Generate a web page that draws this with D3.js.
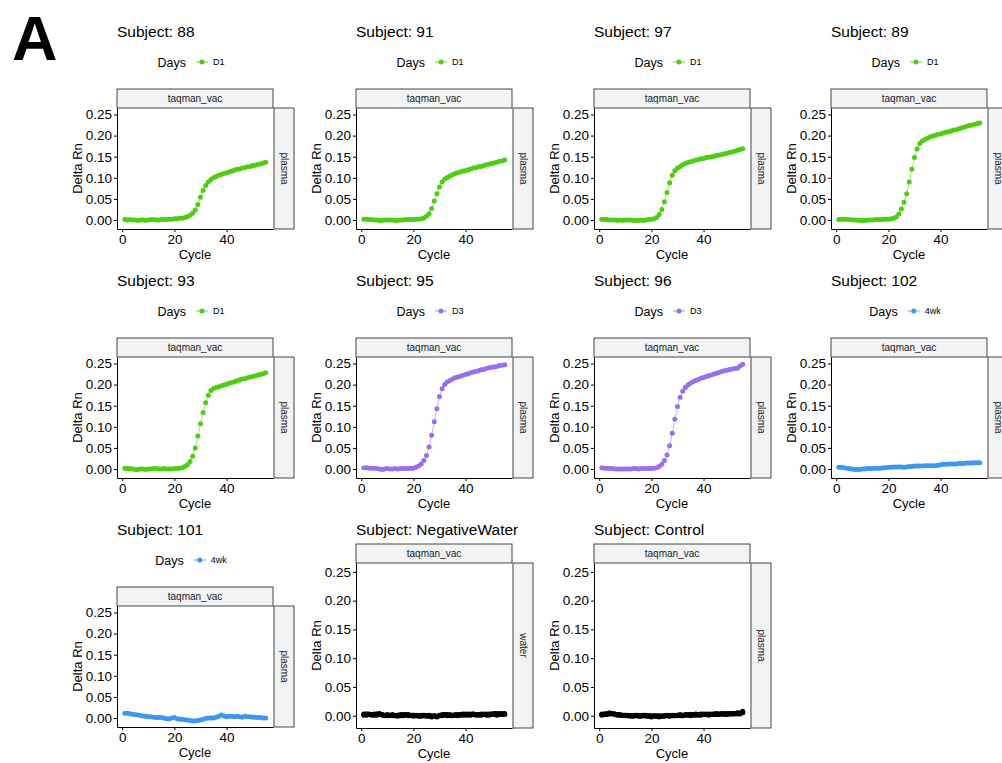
<!DOCTYPE html>
<html><head><meta charset="utf-8">
<script src="https://cdn.jsdelivr.net/npm/d3@7"></script>
<style>
body{margin:0;background:#fff}
svg{display:block}
text{font-family:"Liberation Sans",Arial,Helvetica,sans-serif;fill:#000}
</style>
</head><body>
<svg id="chart" width="1002" height="763"></svg>
<script>
// ---------------- DATA ----------------
const cycles = [1,2,3,4,5,6,7,8,9,10,11,12,13,14,15,16,17,18,19,20,21,22,23,24,25,26,27,28,29,30,31,32,33,34,35,36,37,38,39,40,41,42,43,44,45,46,47,48,49,50,51,52,53,54,55];
const subjects = ["88","91","97","89","93","95","96","102","101","NegativeWater","Control"];
const subjectDays = ["D1","D1","D1","D1","D1","D3","D3","4wk","4wk",null,null];
const sampleTypes = ["plasma","plasma","plasma","plasma","plasma","plasma","plasma","plasma","plasma","water","plasma"];
const assay = "taqman_vac";
const dayColors = {D1:"#4fcd12", D3:"#9a6ef0", "4wk":"#3c97f0", none:"#000000"};
const yTicks = [0,0.05,0.10,0.15,0.20,0.25];
const xTicks = [0,20,40];

const s88 = [0.001,0.000,0.001,0.000,0.000,-0.001,0.000,0.000,-0.001,0.000,
 0.001,0.001,0.000,0.000,0.001,0.001,0.001,0.002,0.002,0.003,
 0.003,0.004,0.004,0.006,0.008,0.011,0.016,0.024,0.037,0.054,
 0.070,0.082,0.090,0.096,0.100,0.103,0.106,0.108,0.110,0.112,
 0.114,0.116,0.118,0.120,0.121,0.123,0.124,0.126,0.127,0.129,
 0.130,0.132,0.133,0.135,0.137];
const s91 = [0.002,0.002,0.001,0.001,0.000,0.000,-0.001,-0.001,0.000,0.000,
 0.000,0.000,-0.001,-0.001,0.000,0.000,0.001,0.001,0.001,0.001,
 0.002,0.002,0.003,0.005,0.009,0.015,0.027,0.045,0.062,0.078,
 0.090,0.097,0.101,0.104,0.107,0.110,0.112,0.114,0.116,0.117,
 0.119,0.121,0.123,0.124,0.126,0.127,0.129,0.131,0.132,0.134,
 0.135,0.137,0.139,0.140,0.142];
const s97 = [0.002,0.001,0.001,0.000,0.000,0.000,-0.001,0.000,-0.001,0.000,
 0.000,0.000,-0.001,-0.001,-0.001,0.000,-0.001,0.000,0.001,0.002,
 0.003,0.006,0.013,0.025,0.043,0.065,0.088,0.106,0.117,0.123,
 0.127,0.131,0.134,0.136,0.138,0.140,0.142,0.143,0.145,0.146,
 0.148,0.149,0.150,0.151,0.153,0.154,0.155,0.157,0.158,0.160,
 0.161,0.163,0.165,0.167,0.169];
const s89 = [0.001,0.002,0.002,0.001,0.001,0.000,0.000,0.000,-0.001,-0.001,
 -0.001,0.000,0.000,0.000,0.001,0.001,0.001,0.002,0.002,0.002,
 0.003,0.004,0.007,0.014,0.026,0.042,0.062,0.090,0.120,0.148,
 0.168,0.181,0.187,0.191,0.194,0.197,0.199,0.201,0.203,0.204,
 0.206,0.208,0.209,0.211,0.213,0.214,0.216,0.218,0.220,0.222,
 0.224,0.225,0.227,0.228,0.230];
const s93 = [0.002,0.001,0.001,0.000,-0.001,-0.001,0.000,0.000,-0.001,0.000,
 0.000,0.001,0.001,0.000,0.000,0.001,0.000,0.000,0.000,0.001,
 0.001,0.002,0.003,0.006,0.010,0.018,0.030,0.050,0.078,0.107,
 0.134,0.157,0.175,0.186,0.191,0.193,0.195,0.197,0.199,0.201,
 0.203,0.205,0.207,0.209,0.211,0.213,0.214,0.216,0.218,0.219,
 0.221,0.223,0.224,0.226,0.228];
const s95 = [0.003,0.003,0.002,0.002,0.002,0.001,0.000,-0.001,0.000,0.001,
 0.000,0.000,0.001,0.000,0.001,0.001,0.001,0.001,0.002,0.002,
 0.004,0.007,0.012,0.020,0.032,0.052,0.080,0.112,0.143,0.172,
 0.190,0.200,0.206,0.210,0.213,0.216,0.218,0.220,0.222,0.224,
 0.226,0.228,0.230,0.231,0.233,0.235,0.236,0.238,0.240,0.241,
 0.242,0.243,0.245,0.246,0.247];
const s96 = [0.003,0.002,0.002,0.001,0.001,0.000,0.000,0.000,0.000,0.000,
 0.000,0.000,0.001,0.001,0.000,0.001,0.001,0.001,0.001,0.001,
 0.002,0.003,0.006,0.011,0.020,0.033,0.055,0.085,0.118,0.148,
 0.170,0.184,0.193,0.199,0.203,0.207,0.210,0.212,0.215,0.217,
 0.219,0.221,0.223,0.225,0.227,0.229,0.231,0.233,0.234,0.236,
 0.237,0.238,0.239,0.244,0.248];
const s102 = [0.004,0.004,0.003,0.002,0.001,0.000,-0.001,-0.001,-0.001,0.000,
 0.000,0.001,0.001,0.001,0.002,0.002,0.002,0.003,0.003,0.004,
 0.004,0.005,0.005,0.005,0.005,0.004,0.005,0.006,0.006,0.007,
 0.007,0.007,0.007,0.008,0.008,0.008,0.008,0.008,0.009,0.010,
 0.011,0.011,0.012,0.012,0.012,0.012,0.013,0.013,0.013,0.014,
 0.014,0.014,0.015,0.015,0.015];
const s101 = [0.011,0.011,0.010,0.009,0.008,0.007,0.006,0.005,0.004,0.003,
 0.003,0.002,0.001,0.001,0.001,0.000,-0.002,-0.002,0.000,0.001,
 -0.002,-0.003,-0.003,-0.004,-0.005,-0.006,-0.007,-0.007,-0.006,-0.005,
 -0.003,-0.001,0.000,0.000,0.000,0.002,0.004,0.007,0.005,0.003,
 0.004,0.004,0.003,0.004,0.003,0.002,0.004,0.003,0.003,0.002,
 0.002,0.001,0.001,0.000,0.000];
const sNW1 = [0.003,0.003,0.002,0.002,0.003,0.003,0.004,0.002,0.001,0.001,
 0.001,0.001,0.000,0.001,0.001,0.002,0.002,0.001,0.001,0.001,
 0.000,0.000,0.001,0.000,0.000,0.000,-0.001,0.000,-0.001,0.001,
 0.002,0.002,0.001,0.002,0.001,0.001,0.002,0.002,0.002,0.003,
 0.002,0.003,0.003,0.002,0.002,0.002,0.003,0.002,0.003,0.003,
 0.003,0.004,0.004,0.003,0.004];
const sNW2 = [0.001,0.001,0.002,0.001,0.001,0.001,0.002,0.001,0.000,0.000,
 0.001,0.000,0.000,-0.001,0.000,0.000,0.001,0.000,0.000,-0.001,
 0.000,-0.001,-0.001,0.000,-0.001,-0.001,-0.002,-0.001,-0.002,0.000,
 0.000,0.001,0.000,0.000,0.000,0.001,0.000,0.001,0.001,0.001,
 0.001,0.001,0.002,0.001,0.001,0.001,0.002,0.001,0.001,0.002,
 0.002,0.001,0.002,0.002,0.002];
const sNW3 = [0.002,0.003,0.003,0.002,0.002,0.003,0.003,0.002,0.001,0.002,
 0.001,0.002,0.001,0.001,0.002,0.001,0.002,0.002,0.001,0.001,
 0.001,0.000,0.000,0.001,0.000,0.001,0.000,0.000,-0.001,0.000,
 0.001,0.002,0.002,0.001,0.001,0.002,0.001,0.002,0.003,0.002,
 0.003,0.002,0.003,0.002,0.002,0.003,0.002,0.003,0.002,0.003,
 0.004,0.003,0.003,0.004,0.003];
const sC1 = [0.003,0.003,0.004,0.005,0.004,0.003,0.002,0.002,0.001,0.001,
 0.001,0.000,0.000,0.001,0.000,0.000,0.000,0.001,0.000,-0.001,
 0.000,0.000,-0.001,0.000,0.000,0.001,0.000,0.001,0.001,0.001,
 0.002,0.001,0.002,0.002,0.002,0.002,0.003,0.002,0.003,0.003,
 0.003,0.002,0.003,0.003,0.004,0.003,0.004,0.004,0.003,0.004,
 0.004,0.004,0.005,0.005,0.008];
const sC2 = [0.001,0.002,0.002,0.003,0.003,0.002,0.001,0.001,0.000,0.000,
 0.000,-0.001,-0.001,0.000,-0.001,-0.001,0.000,-0.001,-0.001,-0.002,
 -0.001,-0.001,-0.002,-0.001,-0.001,0.000,-0.001,0.000,0.000,0.000,
 0.000,0.000,0.001,0.001,0.000,0.001,0.001,0.001,0.001,0.002,
 0.002,0.001,0.002,0.002,0.002,0.002,0.003,0.002,0.002,0.003,
 0.003,0.003,0.003,0.003,0.005];
const sC3 = [0.002,0.003,0.003,0.004,0.004,0.003,0.002,0.001,0.001,0.001,
 0.000,0.000,0.000,0.000,0.001,0.000,0.001,0.000,0.000,0.000,
 0.000,-0.001,0.000,-0.001,0.000,0.000,0.001,0.000,0.000,0.001,
 0.001,0.001,0.001,0.002,0.001,0.002,0.002,0.002,0.002,0.002,
 0.002,0.003,0.002,0.003,0.003,0.003,0.003,0.003,0.004,0.003,
 0.003,0.004,0.004,0.004,0.006];

const seriesBySubject = [[s88],[s91],[s97],[s89],[s93],[s95],[s96],[s102],[s101],[sNW1,sNW2,sNW3],[sC1,sC2,sC3]];

// ---------------- LAYOUT ----------------
const svg = d3.select("#chart");
const colLeft = [117, 356, 594, 831];
const plotW = 156;
const stripH = 19, sideW = 20;

svg.append("text").attr("x", 12).attr("y", 60)
  .style("font-size","63px").style("font-weight","900").text("A");

subjects.forEach((subj, i) => {
  const row = Math.floor(i / 4), col = i % 4;
  const L = colLeft[col];
  const off = row * 249;
  const hasLegend = subjectDays[i] !== null;
  const titleY = 37 + off;
  const legendY = 62 + off;
  const T = hasLegend ? 108 + off : 563;
  const B = hasLegend ? 229 + off : 728;
  const color = hasLegend ? dayColors[subjectDays[i]] : dayColors.none;

  const g = svg.append("g");
  const x = d3.scaleLinear().domain([-2, 57.8]).range([L, L + plotW]);
  const y = d3.scaleLinear().domain([-0.0213, 0.2654]).range([B, T]);

  // title
  g.append("text").attr("x", L).attr("y", titleY)
    .style("font-size","15.5px").text("Subject: " + subj);

  // legend
  if (hasLegend) {
    const lg = g.append("g");
    const t1 = lg.append("text").attr("y", legendY + 4.5).style("font-size","12.5px").text("Days");
    const w1 = t1.node().getComputedTextLength();
    const t2 = lg.append("text").attr("y", legendY + 3.2).style("font-size","9px").text(subjectDays[i]);
    const w2 = t2.node().getComputedTextLength();
    const total = w1 + 10 + 12 + 5 + w2;
    const start = L + 74 - total / 2;
    t1.attr("x", start);
    const kx = start + w1 + 10;
    lg.append("line").attr("x1", kx).attr("x2", kx + 12).attr("y1", legendY).attr("y2", legendY)
      .attr("stroke", color).attr("stroke-width", 1).attr("opacity", 0.8);
    lg.append("circle").attr("cx", kx + 6).attr("cy", legendY).attr("r", 2.5).attr("fill", color);
    t2.attr("x", kx + 12 + 5);
  }

  // strips
  g.append("rect").attr("x", L).attr("y", T - stripH).attr("width", plotW).attr("height", stripH)
    .attr("fill", "#f2f3f5").attr("stroke", "#333").attr("stroke-width", 0.9);
  g.append("text").attr("x", L + plotW / 2).attr("y", T - stripH / 2 + 3.5)
    .attr("text-anchor", "middle").style("font-size","10px").style("fill","#1a1a1a").text(assay);
  g.append("rect").attr("x", L + plotW + 1).attr("y", T).attr("width", sideW).attr("height", B - T)
    .attr("fill", "#f2f3f5").attr("stroke", "#333").attr("stroke-width", 0.9);
  const cx = L + plotW + 1 + sideW / 2, cy = (T + B) / 2;
  g.append("text").attr("transform", `translate(${cx - 3.5},${cy}) rotate(90)`)
    .attr("text-anchor", "middle").style("font-size","10px").style("fill","#1a1a1a").text(sampleTypes[i]);

  // axes
  const ya = g.append("g").attr("transform", `translate(${L},0)`)
    .call(d3.axisLeft(y).tickValues(yTicks).tickFormat(d3.format(".2f")).tickSize(3).tickSizeOuter(0).tickPadding(2));
  const xa = g.append("g").attr("transform", `translate(0,${B})`)
    .call(d3.axisBottom(x).tickValues(xTicks).tickFormat(d3.format("d")).tickSize(3).tickSizeOuter(0).tickPadding(2));
  [ya, xa].forEach(a => {
    a.selectAll("text").style("font-size","13.5px").style("font-family","'Liberation Sans',Arial,sans-serif").attr("fill","#000");
    a.selectAll("line").attr("stroke","#000");
    a.select(".domain").attr("stroke","#000").attr("stroke-width",1);
  });

  // axis titles
  g.append("text").attr("x", L + plotW / 2).attr("y", B + 30)
    .attr("text-anchor", "middle").style("font-size","13px").text("Cycle");
  g.append("text").attr("transform", `translate(${L - 35},${cy}) rotate(-90)`)
    .attr("text-anchor", "middle").style("font-size","13px").text("Delta Rn");

  // data
  const line = d3.line().x((d, k) => x(cycles[k])).y(d => y(d));
  seriesBySubject[i].forEach(vals => {
    g.append("path").datum(vals).attr("d", line).attr("fill", "none")
      .attr("stroke", color).attr("stroke-width", 0.8).attr("opacity", 0.7);
    g.selectAll(null).data(vals).enter().append("circle")
      .attr("cx", (d, k) => x(cycles[k])).attr("cy", d => y(d)).attr("r", 2.5).attr("fill", color);
  });
});
</script>
</body></html>
